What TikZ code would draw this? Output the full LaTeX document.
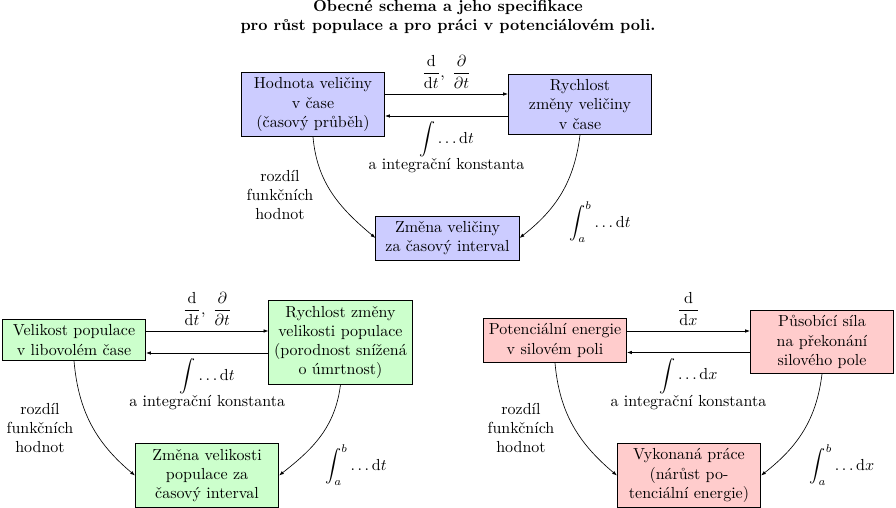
\documentclass[tikz,border=0pt]{standalone}
\usepackage{amsmath}
\usetikzlibrary{arrows.meta,calc}
\begin{document}
\begin{tikzpicture}[x=0.625pt,y=-0.625pt,
  box/.style={draw, text width=83pt, align=center, inner sep=3.33pt},
  bluebox/.style={box, fill=blue!20},
  greenbox/.style={box, fill=green!20},
  redbox/.style={box, fill=red!20},
  arr/.style={-{Latex[length=3pt,width=2.2pt]}},
  lbl/.style={align=center}]
\useasboundingbox (0,0) rectangle (896,508);

% title
\node[lbl, font=\bfseries] (title) at (448,17) {Obecné schema a jeho specifikace\\pro růst populace a pro práci v potenciálovém poli.};

% ---------- top (blue) ----------
\node[bluebox] (A) at (313,104.5) {Hodnota veličiny\\v čase\\(časový průběh)};
\node[bluebox] (B) at (580,104.5) {Rychlost\\změny veličiny\\v čase};
\node[bluebox] (C) at (447.5,238) {Změna veličiny\\za časový interval};
\coordinate (a1) at ($(A.east)+(0,-10.5)$);
\coordinate (a2) at ($(B.west)+(0,11.5)$);
\draw[arr] (a1) -- node[above] {$\displaystyle\frac{\mathrm{d}}{\mathrm{d}t},\;\frac{\partial}{\partial t}$} (a1 -| B.west);
\draw[arr] (a2) -- node[below, lbl] {$\displaystyle\int\dots\mathrm{d}t$\\a integrační konstanta} (a2 -| A.east);
\draw[arr] (A.south) to[out=-85,in=140] (C.west);
\draw[arr] (B.south) to[out=-97,in=38] (C.east);
\node[lbl] (r1) at (280,195) {rozdíl\\funkčních\\hodnot};
\node (i1) at (600,222) {$\displaystyle\int_a^b\dots\mathrm{d}t$};

% ---------- bottom left (green) ----------
\node[greenbox] (D) at (74,340) {Velikost populace\\v libovolém čase};
\node[greenbox] (E) at (340.5,342.5) {Rychlost změny\\velikosti populace\\(porodnost snížená\\o úmrtnost)};
\node[greenbox] (F) at (207,475.5) {Změna velikosti\\populace za\\časový interval};
\coordinate (d1) at ($(D.east)+(0,-9)$);
\coordinate (d2) at ($(E.west)+(0,10.5)$);
\draw[arr] (d1) -- node[above] {$\displaystyle\frac{\mathrm{d}}{\mathrm{d}t},\;\frac{\partial}{\partial t}$} (d1 -| E.west);
\draw[arr] (d2) -- node[below, lbl] {$\displaystyle\int\dots\mathrm{d}t$\\a integrační konstanta} (d2 -| D.east);
\draw[arr] (D.south) to[out=-85,in=140] (F.west);
\draw[arr] (E.south) to[out=-97,in=38] (F.east);
\node[lbl] (r2) at (40,428) {rozdíl\\funkčních\\hodnot};
\node (i2) at (356,465) {$\displaystyle\int_a^b\dots\mathrm{d}t$};

% ---------- bottom right (red) ----------
\node[redbox] (G) at (555,340.5) {Potenciální energie\\v silovém poli};
\node[redbox] (H) at (822,342) {Působící síla\\na překonání\\silového pole};
\node[redbox] (I) at (689,475.5) {Vykonaná práce\\(nárůst po-\\tenciální energie)};
\coordinate (g1) at ($(G.east)+(0,-9.5)$);
\coordinate (g2) at ($(H.west)+(0,10.5)$);
\draw[arr] (g1) -- node[above] {$\displaystyle\frac{\mathrm{d}}{\mathrm{d}x}$} (g1 -| H.west);
\draw[arr] (g2) -- node[below, lbl] {$\displaystyle\int\dots\mathrm{d}x$\\a integrační konstanta} (g2 -| G.east);
\draw[arr] (G.south) to[out=-85,in=140] (I.west);
\draw[arr] (H.south) to[out=-97,in=38] (I.east);
\node[lbl] (r3) at (521,428) {rozdíl\\funkčních\\hodnot};
\node (i3) at (842,465) {$\displaystyle\int_a^b\dots\mathrm{d}x$};
\end{tikzpicture}
\end{document}
